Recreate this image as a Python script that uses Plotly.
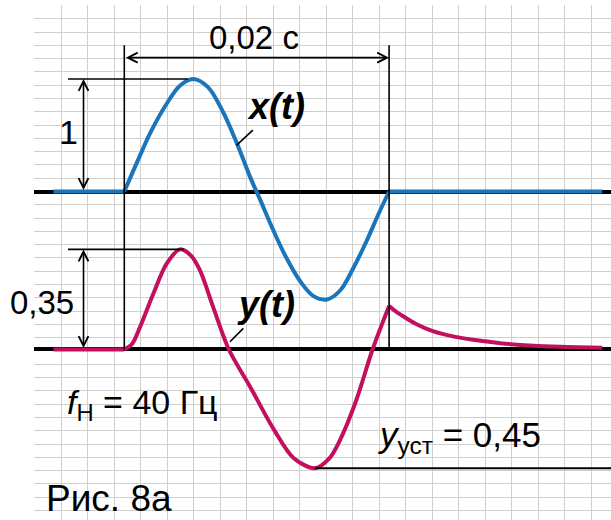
import plotly.graph_objects as go

# time in ms
X_T_MS = [0, 1, 2, 3.2, 4.2, 5.2, 6.3, 7.4, 8.5, 9.5, 10.25, 11.2, 12.2, 13.3, 14.3, 15.3, 16.3, 17.3, 18.3, 19.2, 20]
X_VALS = [0, 0.27, 0.53, 0.78, 0.94, 1.0, 0.93, 0.72, 0.43, 0.13, -0.07, -0.33, -0.58, -0.8, -0.93, -0.96, -0.88, -0.68, -0.44, -0.2, 0]

Y_T_MS = [0, 0.6, 1.2, 2.2, 3.2, 4.2, 5.0, 5.7, 6.7, 7.9, 9.5, 11.3, 12.8, 14.4, 15.5, 16.3, 17.5, 18.75, 20.0]
Y_VALS = [0, 0.02, 0.08, 0.196, 0.30, 0.35, 0.33, 0.278, 0.15, 0.0, -0.13, -0.28, -0.38, -0.415, -0.38, -0.316, -0.18, 0.0, 0.152]

DECAY_T_MS = [20, 20.5, 21, 22, 23.3, 25, 26.5, 28.4, 30.9, 33.4, 36.1]
DECAY_VALS = [0.152, 0.133, 0.118, 0.09, 0.064, 0.044, 0.033, 0.022, 0.013, 0.009, 0.006]

T_START_MS = -5.35
T_END_MS = 36.1
PERIOD = 0.02
X_AMP = 1
Y_PEAK = 0.35
Y_MIN = -0.415

BLUE = '#1b75bb'
MAGENTA = '#c2105f'
FONT = 'Liberation Sans, Arial, sans-serif'

ms = lambda v: [t / 1000 for t in v]

fig = go.Figure()

# x(t)
fig.add_trace(go.Scatter(x=ms([T_START_MS, 0]), y=[0, 0], mode='lines',
                         line=dict(color=BLUE, width=4), yaxis='y'))
fig.add_trace(go.Scatter(x=ms(X_T_MS), y=X_VALS, mode='lines',
                         line=dict(color=BLUE, width=4, shape='spline', smoothing=1), yaxis='y'))
fig.add_trace(go.Scatter(x=ms([20, T_END_MS]), y=[0, 0], mode='lines',
                         line=dict(color=BLUE, width=4), yaxis='y'))

# y(t)
fig.add_trace(go.Scatter(x=ms([T_START_MS, 0]), y=[0, 0], mode='lines',
                         line=dict(color=MAGENTA, width=4), yaxis='y2'))
fig.add_trace(go.Scatter(x=ms(Y_T_MS), y=Y_VALS, mode='lines',
                         line=dict(color=MAGENTA, width=4, shape='spline', smoothing=0.9), yaxis='y2'))
fig.add_trace(go.Scatter(x=ms(DECAY_T_MS), y=DECAY_VALS, mode='lines',
                         line=dict(color=MAGENTA, width=4, shape='spline', smoothing=0.9), yaxis='y2'))

blk = dict(color='black', width=1.6)
shapes = [
    # period markers (upper part on x(t) axis, lower part on y(t) axis)
    dict(type='line', xref='x', yref='y', x0=0, x1=0, y0=0, y1=1.3, line=blk),
    dict(type='line', xref='x', yref='y', x0=PERIOD, x1=PERIOD, y0=1.3, y1=0, line=blk),
    dict(type='line', xref='x', yref='y2', x0=0, x1=0, y0=0, y1=0.56, line=blk),
    dict(type='line', xref='x', yref='y2', x0=PERIOD, x1=PERIOD, y0=0, y1=0.56, line=blk),
    # amplitude markers
    dict(type='line', xref='x', yref='y', x0=-0.00425, x1=0.0048, y0=X_AMP, y1=X_AMP, line=blk),
    dict(type='line', xref='x', yref='y2', x0=-0.00425, x1=0.0045, y0=Y_PEAK, y1=Y_PEAK, line=blk),
    dict(type='line', xref='x', yref='y2', x0=0.0144, x1=0.0368, y0=Y_MIN, y1=Y_MIN,
         line=dict(color='black', width=2)),
    # leader lines
    dict(type='line', xref='x', yref='y', x0=0.00971, x1=0.00849, y0=0.546, y1=0.413, line=blk),
    dict(type='line', xref='x', yref='y2', x0=0.00899, x1=0.00798, y0=0.074, y1=0.027, line=blk),
]

arrow = dict(text='', showarrow=True, arrowhead=5, startarrowhead=5, arrowside='end+start',
             arrowsize=1.2, startarrowsize=1.2, arrowwidth=1.6, arrowcolor='black',
             standoff=0, startstandoff=0)
annotations = [
    dict(x=PERIOD, y=1.19, ax=0, ay=1.19, xref='x', yref='y', axref='x', ayref='y', **arrow),
    dict(x=-0.00308, y=X_AMP, ax=-0.00308, ay=0, xref='x', yref='y', axref='x', ayref='y', **arrow),
    dict(x=-0.00308, y=Y_PEAK, ax=-0.00308, ay=0, xref='x', yref='y2', axref='x', ayref='y2', **arrow),
    dict(x=0.0098, y=1.373, xref='x', yref='y', text='0,02 с', showarrow=False, font=dict(size=33)),
    dict(x=-0.00425, y=0.53, xref='x', yref='y', text='1', showarrow=False, font=dict(size=34)),
    dict(x=-0.0062, y=0.165, xref='x', yref='y2', text='0,35', showarrow=False, font=dict(size=33)),
    dict(x=0.01145, y=0.76, xref='x', yref='y', text='<b><i>x(t)</i></b>', showarrow=False,
         font=dict(size=36)),
    dict(x=0.0107, y=0.156, xref='x', yref='y2', text='<b><i>y(t)</i></b>', showarrow=False,
         font=dict(size=36)),
    dict(x=0.00135, y=-0.194, xref='x', yref='y2', text='<i>f</i><sub>Н</sub> = 40 Гц',
         showarrow=False, font=dict(size=34)),
    dict(x=0.0253, y=-0.306, xref='x', yref='y2', text='<i>y</i><sub>уст</sub> = 0,45',
         showarrow=False, font=dict(size=35)),
    dict(x=-0.00599, y=0, xref='x', yref='paper', xanchor='left', yanchor='bottom',
         text='Рис. 8а', showarrow=False, font=dict(size=37), borderpad=0),
]

fig.update_layout(
    width=611, height=520,
    margin=dict(l=34, r=0, t=5, b=0),
    paper_bgcolor='white', plot_bgcolor='white',
    showlegend=False,
    font=dict(family=FONT, color='black'),
    xaxis=dict(range=[-0.00682, 0.03676], tickmode='linear', tick0=-0.0067447, dtick=0.002,
               showgrid=True, gridcolor='#cfcfcf', gridwidth=1.3, zeroline=False,
               showticklabels=False, ticks=''),
    yaxis=dict(range=[-2.92, 1.65778], tickmode='linear', tick0=0, dtick=0.118133,
               showgrid=True, gridcolor='#cfcfcf', gridwidth=1.3,
               zeroline=True, zerolinecolor='black', zerolinewidth=4,
               showticklabels=False, ticks=''),
    yaxis2=dict(range=[-0.5962, 1.20455], overlaying='y', showgrid=False,
                zeroline=True, zerolinecolor='black', zerolinewidth=4,
                showticklabels=False, ticks=''),
    shapes=shapes,
    annotations=annotations,
)

# the page body has a default 8px margin; drop it so the figure sits at the corner
fig.write_html('out.html', config={'displayModeBar': False},
               post_script="document.body.style.margin='0';")
